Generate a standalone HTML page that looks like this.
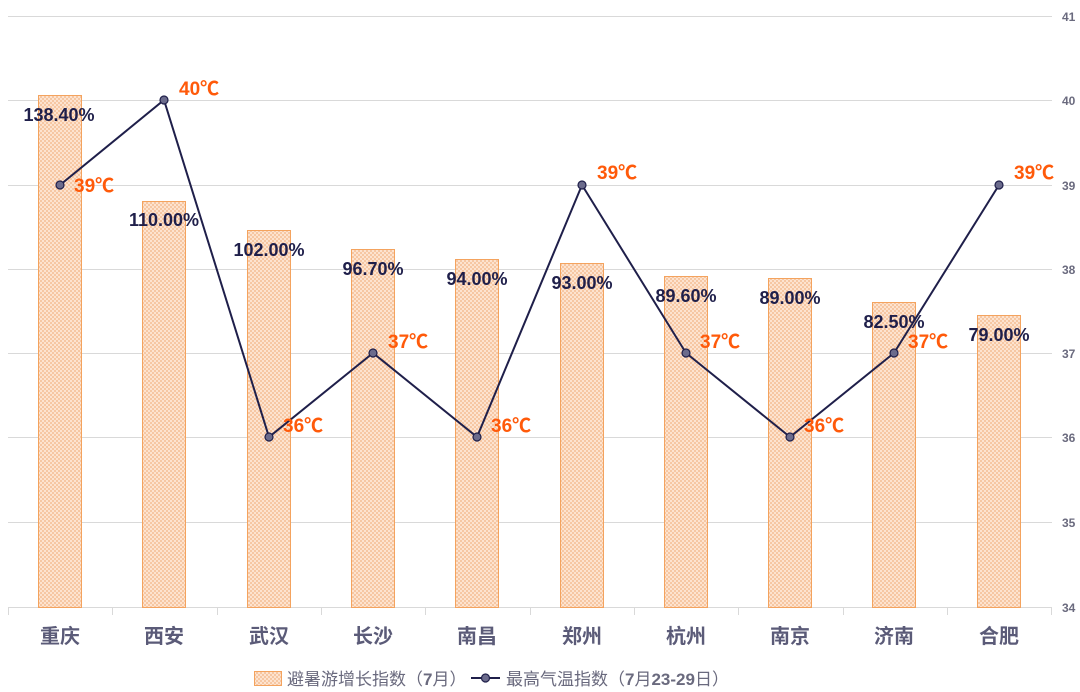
<!DOCTYPE html>
<html><head><meta charset="utf-8"><style>
html,body{margin:0;padding:0;background:#fff;}
svg{display:block;font-family:"Liberation Sans","Noto Sans CJK SC",sans-serif;}
</style></head><body>
<svg width="1080" height="692" viewBox="0 0 1080 692" xmlns="http://www.w3.org/2000/svg">
<defs>
<pattern id="hp" width="4" height="4" patternUnits="userSpaceOnUse">
<rect width="4" height="4" fill="#fde3cf"/>
<rect x="0" y="0" width="2" height="2" fill="#f6c7a3"/>
<rect x="2" y="2" width="2" height="2" fill="#f6c7a3"/>
</pattern>
</defs>
<g stroke="#d9d9d9" stroke-width="1">
<line x1="8" x2="1052" y1="16.5" y2="16.5"/>
<line x1="8" x2="1052" y1="100.5" y2="100.5"/>
<line x1="8" x2="1052" y1="185.5" y2="185.5"/>
<line x1="8" x2="1052" y1="269.5" y2="269.5"/>
<line x1="8" x2="1052" y1="353.5" y2="353.5"/>
<line x1="8" x2="1052" y1="437.5" y2="437.5"/>
<line x1="8" x2="1052" y1="522.5" y2="522.5"/>
<line x1="8" x2="1052" y1="607.5" y2="607.5"/>
<line x1="8.5" x2="8.5" y1="607" y2="615"/>
<line x1="112.5" x2="112.5" y1="607" y2="615"/>
<line x1="217.5" x2="217.5" y1="607" y2="615"/>
<line x1="321.5" x2="321.5" y1="607" y2="615"/>
<line x1="425.5" x2="425.5" y1="607" y2="615"/>
<line x1="530.5" x2="530.5" y1="607" y2="615"/>
<line x1="634.5" x2="634.5" y1="607" y2="615"/>
<line x1="738.5" x2="738.5" y1="607" y2="615"/>
<line x1="843.5" x2="843.5" y1="607" y2="615"/>
<line x1="947.5" x2="947.5" y1="607" y2="615"/>
<line x1="1051.5" x2="1051.5" y1="607" y2="615"/>
</g>
<g fill="url(#hp)" stroke="#f4a35e" stroke-width="1">
<rect x="38.5" y="95.5" width="43" height="512"/>
<rect x="142.5" y="201.5" width="43" height="406"/>
<rect x="247.5" y="230.5" width="43" height="377"/>
<rect x="351.5" y="249.5" width="43" height="358"/>
<rect x="455.5" y="259.5" width="43" height="348"/>
<rect x="560.5" y="263.5" width="43" height="344"/>
<rect x="664.5" y="276.5" width="43" height="331"/>
<rect x="768.5" y="278.5" width="43" height="329"/>
<rect x="872.5" y="302.5" width="43" height="305"/>
<rect x="977.5" y="315.5" width="43" height="292"/>
</g>
<g fill="#6a6a7e" font-size="12" font-weight="bold" text-anchor="start">
<text x="1062" y="21">41</text><text x="1062" y="105">40</text><text x="1062" y="190">39</text>
<text x="1062" y="274">38</text><text x="1062" y="358">37</text><text x="1062" y="442">36</text>
<text x="1062" y="527">35</text><text x="1062" y="612">34</text>
</g>
<g fill="#5b5b78" font-size="20" font-weight="bold" text-anchor="middle">
<text x="60" y="643">重庆</text><text x="164" y="643">西安</text><text x="269" y="643">武汉</text>
<text x="373" y="643">长沙</text><text x="477" y="643">南昌</text><text x="582" y="643">郑州</text>
<text x="686" y="643">杭州</text><text x="790" y="643">南京</text><text x="894" y="643">济南</text>
<text x="999" y="643">合肥</text>
</g>
<polyline fill="none" stroke="#1f1f4a" stroke-width="2" points="60,185 164,100 269,437 373,353 477,437 582,185 686,353 790,437 894,353 999,185"/>
<g fill="#6b6b8c" stroke="#1f1f4a" stroke-width="1.2">
<circle cx="60" cy="185" r="4"/><circle cx="164" cy="100" r="4"/><circle cx="269" cy="437" r="4"/>
<circle cx="373" cy="353" r="4"/><circle cx="477" cy="437" r="4"/><circle cx="582" cy="185" r="4"/>
<circle cx="686" cy="353" r="4"/><circle cx="790" cy="437" r="4"/><circle cx="894" cy="353" r="4"/>
<circle cx="999" cy="185" r="4"/>
</g>
<g fill="#1f1f4a" font-size="18" font-weight="bold" text-anchor="middle">
<text x="59" y="121">138.40%</text><text x="164" y="226">110.00%</text><text x="269" y="256">102.00%</text>
<text x="373" y="275">96.70%</text><text x="477" y="285">94.00%</text><text x="582" y="289">93.00%</text>
<text x="686" y="302">89.60%</text><text x="790" y="304">89.00%</text><text x="894" y="328">82.50%</text>
<text x="999" y="341">79.00%</text>
</g>
<g fill="#ff5a0a" font-size="19" font-weight="bold">
<text x="74" y="192">39℃</text><text x="179" y="95">40℃</text><text x="283" y="432">36℃</text>
<text x="388" y="348">37℃</text><text x="491" y="432">36℃</text><text x="597" y="179">39℃</text>
<text x="700" y="348">37℃</text><text x="804" y="432">36℃</text><text x="908" y="348">37℃</text>
<text x="1014" y="179">39℃</text>
</g>
<rect x="254.5" y="671.5" width="27" height="14" fill="url(#hp)" stroke="#f4a35e"/>
<g fill="#6a6a7e" font-size="17">
<text x="287" y="685">避暑游增长指数（<tspan font-weight="bold">7</tspan>月）</text>
<text x="506" y="685">最高气温指数（<tspan font-weight="bold">7</tspan>月<tspan font-weight="bold">23-29</tspan>日）</text>
</g>
<line x1="471" x2="500" y1="678" y2="678" stroke="#1f1f4a" stroke-width="2"/>
<circle cx="485.5" cy="678" r="4" fill="#6b6b8c" stroke="#1f1f4a" stroke-width="1.2"/>
</svg>
</body></html>
